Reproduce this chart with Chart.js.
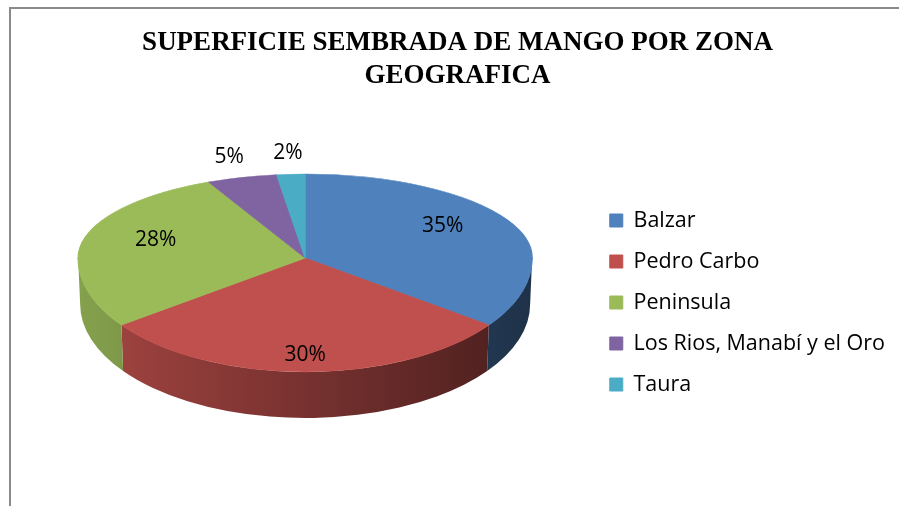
<!DOCTYPE html>
<html>
<head>
<meta charset="utf-8">
<script src="https://cdn.jsdelivr.net/npm/chart.js@4.4.1/dist/chart.umd.min.js"></script>
<style>
  html, body { margin: 0; padding: 0; background: #fff; }
  #wrap { position: relative; width: 899px; height: 506px; overflow: hidden; }
  #frame { position: absolute; left: 9px; top: 7px; width: 1000px; height: 1000px;
           border-left: 2px solid #8a8a8a; border-top: 2px solid #8a8a8a; }
  canvas { position: absolute; left: 0; top: 0; }
</style>
</head>
<body>
<div id="wrap">
  <div id="frame"></div>
  <canvas id="chart" width="899" height="506"></canvas>
</div>
<script>
        // Datos
        const zonas = ['Balzar', 'Pedro Carbo', 'Peninsula', 'Los Rios, Manabí y el Oro', 'Taura'];
        const superficie = [35, 30, 28, 5, 2];
        const colores = ['#4f81bd', '#c0504d', '#9bbb59', '#8064a2', '#4bacc6'];
        const titulo = ['SUPERFICIE SEMBRADA DE MANGO POR ZONA', 'GEOGRAFICA'];

        // darken a hex colour
        function shade(hex, f) {
            const n = parseInt(hex.slice(1), 16);
            const r = Math.round(((n >> 16) & 255) * f);
            const g = Math.round(((n >> 8) & 255) * f);
            const b = Math.round((n & 255) * f);
            return `rgb(${r},${g},${b})`;
        }

        // 3D pie: sides + squashed top faces + percent labels
        const pie3d = {
            id: 'pie3d',
            beforeDatasetsDraw(chart, args, opts) {
                const ctx = chart.ctx;
                const meta = chart.getDatasetMeta(0);
                const first = meta.data[0];
                const x0 = first.x, y0 = first.y, R = first.outerRadius;
                const cx = (chart.chartArea.left + chart.chartArea.right) / 2 + opts.shiftX;
                const cy = opts.centerY;
                const rx = opts.radiusX;

                // front sides
                meta.data.forEach((arc, i) => {
                    const a1 = Math.max(arc.startAngle, 0);
                    const a2 = Math.min(arc.endAngle, Math.PI);
                    if (a2 <= a1) return;
                    const grad = ctx.createLinearGradient(cx - rx, 0, cx + rx, 0);
                    grad.addColorStop(0, shade(colores[i], 0.86));
                    grad.addColorStop(1, shade(colores[i], 0.38));
                    ctx.save();
                    ctx.beginPath();
                    ctx.ellipse(cx, cy, rx, opts.front, 0, a1, a2);
                    ctx.ellipse(cx, cy + opts.depth, rx - 2, opts.front, 0, a2, a1, true);
                    ctx.closePath();
                    ctx.fillStyle = grad;
                    ctx.fill();
                    ctx.restore();
                });

                // top faces, back half and front half
                [[opts.back, 0, cy + 1], [opts.front, cy, chart.height]].forEach(([ry, top, bottom]) => {
                    ctx.save();
                    ctx.beginPath();
                    ctx.rect(0, top, chart.width, bottom - top);
                    ctx.clip();
                    ctx.translate(cx, cy);
                    ctx.scale(rx / R, ry / R);
                    ctx.translate(-x0, -y0);
                    meta.data.forEach(arc => arc.draw(ctx));
                    ctx.restore();
                });

                // labels
                const total = superficie.reduce((a, b) => a + b, 0);
                ctx.save();
                ctx.font = '21px "Open Sans"';
                ctx.fillStyle = '#000';
                ctx.textAlign = 'center';
                ctx.textBaseline = 'middle';
                meta.data.forEach((arc, i) => {
                    const pct = superficie[i] / total * 100;
                    const m = (arc.startAngle + arc.endAngle) / 2;
                    const outside = pct < 10;
                    const fx = outside ? 1.2 : 0.68;
                    const fy = outside ? 1.25 : 0.85;
                    const s = Math.sin(m);
                    const lx = cx + fx * rx * Math.cos(m);
                    const ly = cy + fy * (s < 0 ? opts.back : opts.front) * s;
                    ctx.fillText(Math.round(pct) + '%', lx, ly);
                });
                ctx.restore();
                return false;
            }
        };

        const ctx = document.getElementById('chart').getContext('2d');
        const mangoChart = new Chart(ctx, {
            type: 'pie',
            data: {
                labels: zonas,
                datasets: [{
                    data: superficie,
                    backgroundColor: colores,
                    borderColor: colores,
                    borderWidth: 1
                }]
            },
            options: {
                responsive: false,
                animation: false,
                devicePixelRatio: 1,
                layout: { padding: { left: 20, right: 4, top: 0, bottom: 0 } },
                plugins: {
                    title: {
                        display: true,
                        text: titulo,
                        color: '#000',
                        font: { family: '"Liberation Serif"', size: 27, weight: 'bold', lineHeight: 1.2 },
                        padding: { top: 27, bottom: 20 }
                    },
                    legend: {
                        position: 'right',
                        title: {
                            // empty title only pushes the items down
                            display: true,
                            text: '',
                            font: { size: 10, lineHeight: 1.2 },
                            padding: { top: 87, bottom: 0 }
                        },
                        labels: {
                            boxWidth: 13,
                            boxHeight: 13,
                            padding: 19.5,
                            color: '#000',
                            font: { family: '"Open Sans"', size: 21.5 }
                        }
                    },
                    tooltip: { enabled: false },
                    pie3d: { centerY: 258, radiusX: 227, back: 84, front: 114, depth: 46, shiftX: 0 }
                }
            },
            plugins: [pie3d]
        });
</script>
</body>
</html>
